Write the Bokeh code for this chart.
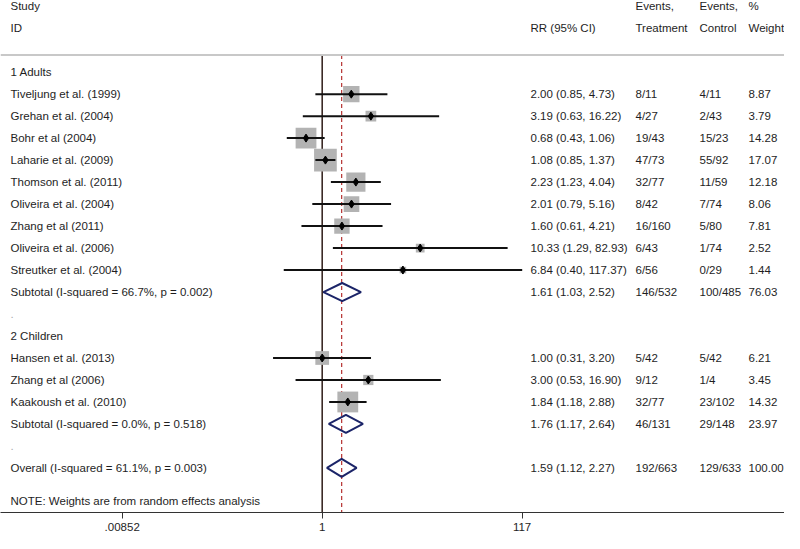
import math
from bokeh.plotting import figure
from bokeh.models import Range1d, FixedTicker, Span, ColumnDataSource
from bokeh.core.properties import value
from bokeh.embed import file_html
from bokeh.resources import INLINE

# ---------------- data ----------------
studies = ["Tiveljung et al. (1999)", "Grehan et al. (2004)", "Bohr et al (2004)",
           "Laharie et al. (2009)", "Thomson et al. (2011)", "Oliveira et al. (2004)",
           "Zhang et al (2011)", "Oliveira et al. (2006)", "Streutker et al. (2004)",
           "Hansen et al. (2013)", "Zhang et al (2006)", "Kaakoush et al. (2010)"]
study_rows = [1, 2, 3, 4, 5, 6, 7, 8, 9, 13, 14, 15]
rr = [2.00, 3.19, 0.68, 1.08, 2.23, 2.01, 1.60, 10.33, 6.84, 1.00, 3.00, 1.84]
ci_lo = [0.85, 0.63, 0.43, 0.85, 1.23, 0.79, 0.61, 1.29, 0.40, 0.31, 0.53, 1.18]
ci_hi = [4.73, 16.22, 1.06, 1.37, 4.04, 5.16, 4.21, 82.93, 117.37, 3.20, 16.90, 2.88]
events_t = ["8/11", "4/27", "19/43", "47/73", "32/77", "8/42", "16/160", "6/43", "6/56",
            "5/42", "9/12", "32/77"]
events_c = ["4/11", "2/43", "15/23", "55/92", "11/59", "7/74", "5/80", "1/74", "0/29",
            "5/42", "1/4", "23/102"]
weights = [8.87, 3.79, 14.28, 17.07, 12.18, 8.06, 7.81, 2.52, 1.44, 6.21, 3.45, 14.32]

sum_labels = ["Subtotal  (I-squared = 66.7%, p = 0.002)",
              "Subtotal  (I-squared = 0.0%, p = 0.518)",
              "Overall  (I-squared = 61.1%, p = 0.003)"]
sum_rows = [10, 16, 18]
sum_rr = [1.61, 1.76, 1.59]
sum_lo = [1.03, 1.17, 1.12]
sum_hi = [2.52, 2.64, 2.27]
sum_events_t = ["146/532", "46/131", "192/663"]
sum_events_c = ["100/485", "29/148", "129/633"]
sum_weights = [76.03, 23.97, 100.00]

group_labels = ["1 Adults", "2 Children"]
group_rows = [0, 12]
blank_rows = [11, 17]
overall_rr = 1.59

tick_vals = [0.00852, 1, 117]
tick_labels = [".00852", "1", "117"]

note = "NOTE: Weights are from random effects analysis"
note_row = 19.5

# ---------------- layout ----------------
W, H = 784, 533
FRAME_H = 513
PX_ONE = 321.7
PX_DEC = 200.0 / math.log10(117.37)
# vertical: reference y (5 = first header row, 526.7 = axis) -> frame px
SY = (FRAME_H - 6.0) / (526.7 - 5.0)
ROW_PX = 22.67 * SY
ROW0 = 6.0 + (72.7 - 5.0) * SY

def xpos(ref_px):
    return 10 ** ((ref_px - PX_ONE) / PX_DEC)

y_top = -ROW0 / ROW_PX
y_bot = (FRAME_H - ROW0) / ROW_PX

p = figure(width=W, height=H, output_backend="svg", toolbar_location=None,
           x_axis_type="log",
           x_range=Range1d(xpos(0), xpos(W)),
           y_range=Range1d(y_bot, y_top),
           min_border_left=0, min_border_right=0, min_border_top=0, min_border_bottom=0)
p.yaxis.visible = False
p.grid.visible = False
p.outline_line_color = None
p.background_fill_color = "white"
p.border_fill_color = "white"

FONT = value("Liberation Sans")
FS = "11.5px"
TXT = "#1e1e1e"

# axis
p.xaxis.ticker = FixedTicker(ticks=tick_vals, minor_ticks=[])
p.xaxis.major_label_overrides = dict(zip(tick_vals, tick_labels))
p.xaxis.major_tick_out = 6
p.xaxis.major_tick_in = 0
p.xaxis.minor_tick_out = 0
p.xaxis.major_label_standoff = 4
p.xaxis.axis_line_color = "#333333"
p.xaxis.major_tick_line_color = "#333333"
p.xaxis.major_label_text_font = "Liberation Sans"
p.xaxis.major_label_text_font_size = FS
p.xaxis.major_label_text_color = TXT

# header separator
sep_row = -0.78
p.add_layout(Span(location=sep_row, dimension="width", line_color="#c8c8c8", line_width=2))

# reference lines
p.segment(x0=[1], y0=[sep_row], x1=[1], y1=[y_bot], line_color="#3b2a26", line_width=1.6)
p.segment(x0=[overall_rr], y0=[sep_row], x1=[overall_rr], y1=[y_bot],
          line_color="#b5302f", line_width=1.2, line_dash="4 3")

# studies
src = ColumnDataSource(dict(
    row=study_rows, rr=rr, lo=ci_lo, hi=ci_hi,
    box=[5.5 * math.sqrt(w) for w in weights],
))
p.scatter(x="rr", y="row", size="box", marker="square", source=src,
          fill_color="#b3b3b3", line_color=None)
p.segment(x0="lo", y0="row", x1="hi", y1="row", source=src, line_color="#111111", line_width=2)
p.scatter(x="rr", y="row", size=8, marker="diamond", source=src,
          fill_color="#000000", line_color="#000000")

# summary diamonds
H_D = 0.41
xs = [[l, m, h, m] for l, m, h in zip(sum_lo, sum_rr, sum_hi)]
ys = [[r, r - H_D, r, r + H_D] for r in sum_rows]
p.patches(xs=xs, ys=ys, fill_alpha=0, line_color="#1b2468", line_width=2)

# text columns
def col(xref, rows, texts, color=TXT):
    p.text(x=[xpos(xref)] * len(rows), y=rows, text=texts, text_font=FONT,
           text_font_size=FS, text_color=color, text_baseline="middle", text_align="left")

fmt_ci = lambda a, b, c: f"{a:.2f} ({b:.2f}, {c:.2f})"

col(10, [-3, -2], ["Study", "ID"])
col(530, [-2], ["RR (95% CI)"])
col(635, [-3, -2], ["Events,", "Treatment"])
col(699, [-3, -2], ["Events,", "Control"])
col(748, [-3, -2], ["%", "Weight"])

col(10, group_rows, group_labels)
col(10, study_rows, studies)
col(10, sum_rows, sum_labels)
col(10, blank_rows, ["."] * len(blank_rows), color="#aaaaaa")
col(10, [note_row], [note])

col(530, study_rows, [fmt_ci(a, b, c) for a, b, c in zip(rr, ci_lo, ci_hi)])
col(530, sum_rows, [fmt_ci(a, b, c) for a, b, c in zip(sum_rr, sum_lo, sum_hi)])
col(635, study_rows, events_t)
col(635, sum_rows, sum_events_t)
col(699, study_rows, events_c)
col(699, sum_rows, sum_events_c)
col(748, study_rows, [f"{w:.2f}" for w in weights])
col(748, sum_rows, [f"{w:.2f}" for w in sum_weights])

open("out.html", "w").write(file_html(p, INLINE))
